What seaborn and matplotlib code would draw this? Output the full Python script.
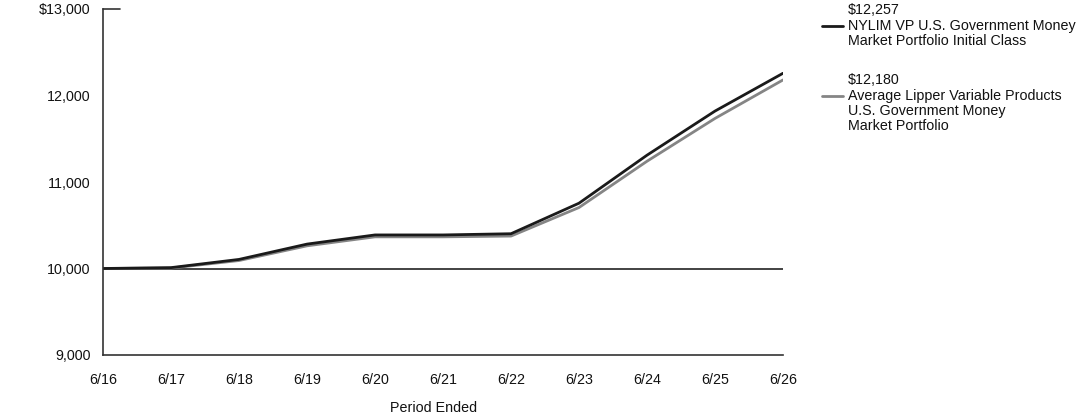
import matplotlib
matplotlib.use("Agg")
import matplotlib.pyplot as plt
import matplotlib.lines as mlines
import seaborn as sns
import pandas as pd

periods = ["6/16", "6/17", "6/18", "6/19", "6/20", "6/21", "6/22", "6/23", "6/24", "6/25", "6/26"]
nylim = [10000, 10010, 10105, 10282, 10388, 10388, 10402, 10755, 11310, 11820, 12257]
lipper = [10000, 10005, 10092, 10262, 10366, 10366, 10375, 10705, 11240, 11735, 12180]
series_names = ["NYLIM VP U.S. Government Money\nMarket Portfolio Initial Class",
                "Average Lipper Variable Products\nU.S. Government Money\nMarket Portfolio"]
end_labels = ["$12,257", "$12,180"]
colors = ["#1a1a1a", "#858585"]
yticks = [9000, 10000, 11000, 12000, 13000]
ytick_labels = ["9,000", "10,000", "11,000", "12,000", "$13,000"]

sns.set_theme(style="white")
plt.rcParams["font.family"] = ["Liberation Sans", "DejaVu Sans"]
FS = 10.3

rows = []
for name, vals in zip(series_names, [nylim, lipper]):
    for i, v in enumerate(vals):
        rows.append({"x": i, "value": v, "series": name})
df = pd.DataFrame(rows)

fig = plt.figure(figsize=(10.92, 4.17), dpi=100)
ax = fig.add_axes([103/1092, 1 - 355/417, (783-103)/1092, (355-9)/417])

sns.lineplot(data=df[df.series == series_names[1]], x="x", y="value", color=colors[1],
             linewidth=2, ax=ax, legend=False)
sns.lineplot(data=df[df.series == series_names[0]], x="x", y="value", color=colors[0],
             linewidth=2, ax=ax, legend=False)

ax.axhline(10000, color="#222222", linewidth=1.2, zorder=1)
ax.axhline(13000, xmin=0, xmax=17/680, color="#333333", linewidth=1.2, clip_on=False)

ax.set_xlim(0, len(periods) - 1)
ax.set_ylim(9000, 13000)
ax.set_xticks(range(len(periods)))
ax.set_xticklabels(periods, fontsize=FS)
ax.set_yticks(yticks)
ax.set_yticklabels(ytick_labels, fontsize=FS)
ax.tick_params(axis="x", direction="in", length=5, width=1, color="#333333", pad=13, labelcolor="#111111")
ax.tick_params(axis="y", length=0, pad=9, labelcolor="#111111")
ax.set_xlabel("Period Ended", fontsize=FS, color="#111111")
ax.xaxis.set_label_coords((434 - 103) / 680, -(408 - 355) / 346)
ax.xaxis.label.set_va("center")
ax.set_ylabel("")
for s in ["top", "right"]:
    ax.spines[s].set_visible(False)
for s in ["left", "bottom"]:
    ax.spines[s].set_color("#333333")
    ax.spines[s].set_linewidth(1.2)

# manual legend
legend_y = [26, 96]
for name, lab, col, ly in zip(series_names, end_labels, colors, legend_y):
    yf = 1 - ly / 417
    fig.add_artist(mlines.Line2D([822/1092, 843/1092], [yf, yf], color=col, linewidth=2,
                                 transform=fig.transFigure))
    fig.text(848/1092, 1 - (ly - 16) / 417, lab, fontsize=FS, va="center", ha="left", color="#111111")
    for j, line in enumerate(name.split("\n")):
        fig.text(848/1092, 1 - (ly + 15 * j) / 417, line, fontsize=FS, va="center", ha="left",
                 color="#111111")

fig.savefig("out.png", dpi=100)
